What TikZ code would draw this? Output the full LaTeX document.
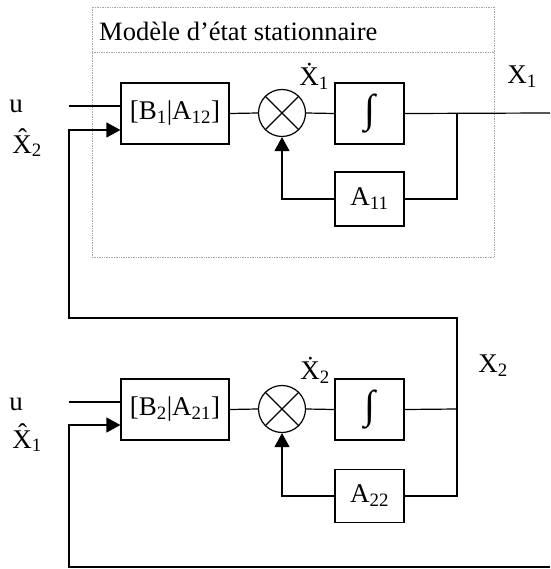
\documentclass[tikz,border=0pt]{standalone}
\usepackage{fontspec}
\setmainfont{Liberation Serif}
\usepackage{tikz}
\usetikzlibrary{arrows.meta}

\newcommand{\integ}{{\fontsize{40}{40}\selectfont ∫}}

\begin{document}
\begin{tikzpicture}[x=1pt, y=-1pt,
  box/.style={draw, line width=1.2pt, minimum width=69pt, minimum height=61pt,
              inner sep=0pt, text centered, font=\fontsize{27}{32}\selectfont},
  gainbox/.style={box, minimum width=108pt},
  sumnode/.style={draw, circle, line width=1.2pt, minimum size=47pt, inner sep=0pt},
  lbl/.style={inner sep=0pt, font=\fontsize{27}{32}\selectfont},
  frame/.style={draw=gray!70, densely dotted, line width=0.7pt},
  wire/.style={line width=1.2pt},
  arr/.style={wire, -{Triangle[length=14pt, width=15pt]}}
]
\useasboundingbox (0,0) rectangle (550,569);

% cadre du modele
\draw[frame] (92,7) rectangle (494,257);
\draw[frame] (92,52) -- (494,52);
\node[lbl, anchor=west, font=\fontsize{26.5}{32}\selectfont] (ntitle) at (99,31) {Modèle d’état stationnaire};

% bloc 1
\node[gainbox] (ngain1) at (175,113.5) {[B\textsubscript{1}|A\textsubscript{12}]};
\node[sumnode] (nsum1)  at (282,113) {};
\node[box]     (nint1)  at (369.5,113.5) {\integ};
\node[box, minimum height=54pt] (na11) at (369.5,199) {A\textsubscript{11}};
\coordinate (nj1)  at (457,113);
\coordinate (nout1) at (550,113);
\coordinate (nu1)  at (69,106);

% bloc 2
\node[gainbox] (ngain2) at (175,409.5) {[B\textsubscript{2}|A\textsubscript{21}]};
\node[sumnode] (nsum2)  at (282,409) {};
\node[box]     (nint2)  at (369.5,409.5) {\integ};
\node[box, minimum height=53pt] (na22) at (369.5,496) {A\textsubscript{22}};
\coordinate (nj2)  at (457,409);
\coordinate (nu2)  at (69,402);
\coordinate (nfb2) at (69,318);
\coordinate (nfb1) at (550,567);
\coordinate (nc1)  at (69,567);

% croix des sommateurs
\foreach \s in {nsum1, nsum2} {
  \draw[wire] (\s.north west) -- (\s.south east);
  \draw[wire] (\s.north east) -- (\s.south west);
}

% etiquettes
\node[lbl] (nlu1)   at (16,106) {u};
\node[lbl] (nlxh2)  at (27,143) {\^{X}\textsubscript{2}};
\node[lbl] (nlxd1)  at (314,76) {\.{X}\textsubscript{1}};
\node[lbl] (nlx1)   at (522,77) {X\textsubscript{1}};
\node[lbl] (nlu2)   at (16,404) {u};
\node[lbl] (nlxh1)  at (27,438) {\^{X}\textsubscript{1}};
\node[lbl] (nlxd2)  at (315,370) {\.{X}\textsubscript{2}};
\node[lbl] (nlx2)   at (493,366) {X\textsubscript{2}};

% liaisons bloc 1
\draw[wire] (nu1) -- (nu1 -| ngain1.west);
\draw[wire] (ngain1.east) -- (nsum1.west);
\draw[wire] (nsum1.east) -- (nint1.west);
\draw[wire] (nint1.east) -- (nout1);
\draw[wire] (nj1) |- (na11.east);
\draw[arr]  (na11.west) -| (nsum1.south);

% liaisons bloc 2
\draw[wire] (nu2) -- (nu2 -| ngain2.west);
\draw[wire] (ngain2.east) -- (nsum2.west);
\draw[wire] (nsum2.east) -- (nint2.west);
\draw[wire] (nint2.east) -- (nj2);
\draw[wire] (nj2) |- (na22.east);
\draw[arr]  (na22.west) -| (nsum2.south);

% retours croises
\draw[arr] (nj2) |- (nfb2) |- ([yshift=-16.5pt]ngain1.west);
\draw[arr] (nfb1) -- (nc1) |- ([yshift=-15.5pt]ngain2.west);
\end{tikzpicture}
\end{document}
